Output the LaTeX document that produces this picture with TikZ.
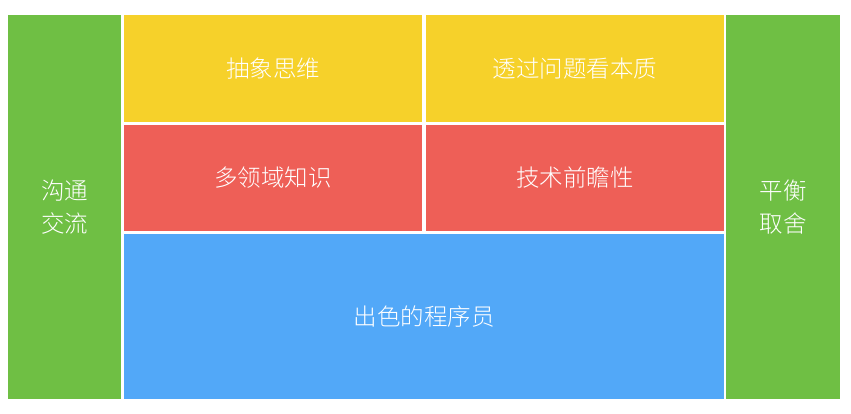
\documentclass[tikz,border=0pt]{standalone}
\usepackage{fontspec}
\newfontfamily\cjk{Noto Sans CJK SC Light}
\definecolor{cgreen}{HTML}{6FBF44}
\definecolor{cyellow}{HTML}{F6D12A}
\definecolor{cred}{HTML}{EE5F57}
\definecolor{cblue}{HTML}{52A8F8}
\tikzset{
  blk/.style={anchor=north west, inner sep=0pt, outer sep=0pt, align=center,
    text=white, font=\cjk\fontsize{23.5}{33}\selectfont},
}
\begin{document}
\begin{tikzpicture}[x=1pt,y=-1pt]
\fill[white] (0,0) rectangle (851,414);
\useasboundingbox (0,0) rectangle (851,414);
\node[blk, fill=cgreen, minimum width=113pt, minimum height=384pt] (left) at (8,15) {沟通\\交流};
\node[blk, fill=cyellow, minimum width=298pt, minimum height=107pt] (y1) at (124,15) {抽象思维};
\node[blk, fill=cyellow, minimum width=298pt, minimum height=107pt] (y2) at (426,15) {透过问题看本质};
\node[blk, fill=cred, minimum width=298pt, minimum height=106pt] (r1) at (124,125) {多领域知识};
\node[blk, fill=cred, minimum width=298pt, minimum height=106pt] (r2) at (426,125) {技术前瞻性};
\node[blk, fill=cblue, minimum width=600pt, minimum height=165pt] (b) at (124,234) {出色的程序员};
\node[blk, fill=cgreen, minimum width=114pt, minimum height=384pt] (right) at (726,15) {平衡\\取舍};
\end{tikzpicture}
\end{document}
